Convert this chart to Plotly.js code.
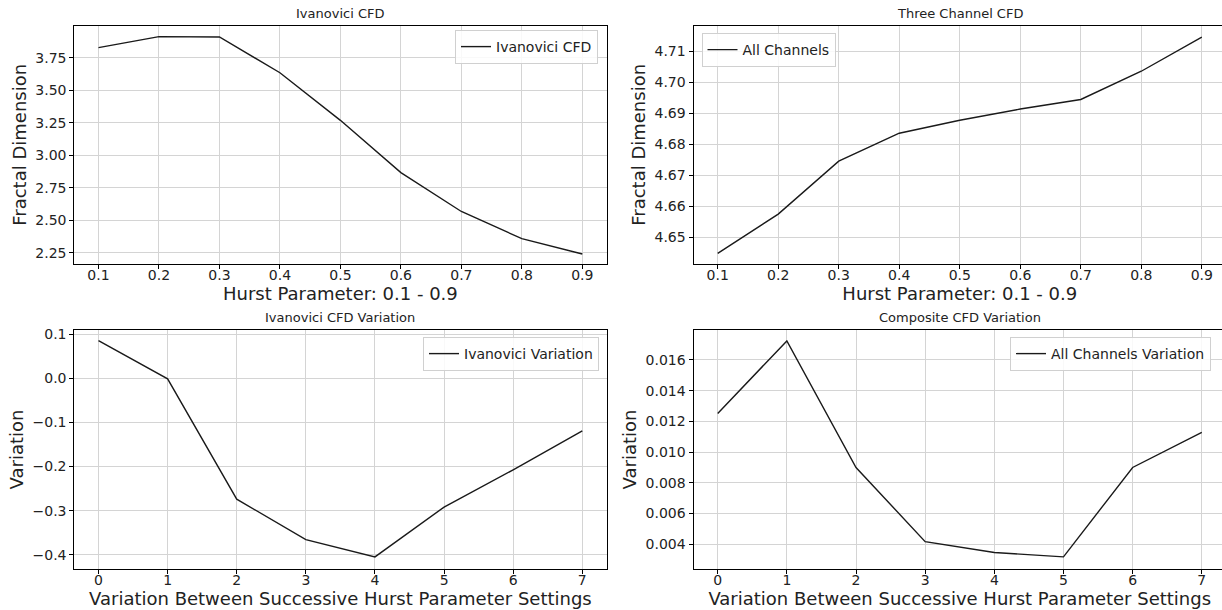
<!DOCTYPE html>
<html>
<head>
<meta charset="utf-8">
<script src="https://cdn.plot.ly/plotly-3.0.1.min.js"></script>
<style>
html,body{margin:0;padding:0;overflow:hidden;background:#fff;width:1222px;height:610px;}
#chart{width:1230px;height:610px;}
</style>
</head>
<body>
<div id="chart"></div>
<script>
// ---- data ----
const hurst = [0.1, 0.2, 0.3, 0.4, 0.5, 0.6, 0.7, 0.8, 0.9];
const ivanoviciCFD = [3.827, 3.912, 3.909, 3.634, 3.268, 2.866, 2.567, 2.358, 2.240];
const allChannelsCFD = [4.6447, 4.6574, 4.6745, 4.6835, 4.6877, 4.6913, 4.6944, 4.7035, 4.7145];
const steps = [0, 1, 2, 3, 4, 5, 6, 7];
const ivanoviciVariation = [0.0857, -0.001, -0.274, -0.366, -0.405, -0.292, -0.2075, -0.119];
const allChannelsVariation = [0.01252, 0.01724, 0.0090, 0.00417, 0.00346, 0.00318, 0.0090, 0.01128];

const subplotTitles = ["Ivanovici CFD", "Three Channel CFD", "Ivanovici CFD Variation", "Composite CFD Variation"];
const seriesNames = ["Ivanovici CFD", "All Channels", "Ivanovici Variation", "All Channels Variation"];
const xTitles = ["Hurst Parameter: 0.1 - 0.9", "Hurst Parameter: 0.1 - 0.9",
  "Variation Between Successive Hurst Parameter Settings", "Variation Between Successive Hurst Parameter Settings"];
const yTitles = ["Fractal Dimension", "Fractal Dimension", "Variation", "Variation"];
const hurstTicks = [0.1, 0.2, 0.3, 0.4, 0.5, 0.6, 0.7, 0.8, 0.9];
const hurstTickText = ["0.1", "0.2", "0.3", "0.4", "0.5", "0.6", "0.7", "0.8", "0.9"];

// ---- layout geometry (pixels) ----
const W = 1230, H = 610;
const FONT = "DejaVu Sans, Liberation Sans, sans-serif";
const colL = [74.3, 606.5], colR = [693.5, 1226];
const rowT = [25.7, 264], rowB = [330, 569];
const fx = p => p / W;
const fy = p => (H - p) / H;

const line = {color: "#1a1a1a", width: 1.4};
const traces = [
  {x: hurst, y: ivanoviciCFD, name: seriesNames[0], xaxis: "x", yaxis: "y", legend: "legend"},
  {x: hurst, y: allChannelsCFD, name: seriesNames[1], xaxis: "x2", yaxis: "y2", legend: "legend2"},
  {x: steps, y: ivanoviciVariation, name: seriesNames[2], xaxis: "x3", yaxis: "y3", legend: "legend3"},
  {x: steps, y: allChannelsVariation, name: seriesNames[3], xaxis: "x4", yaxis: "y4", legend: "legend4"}
].map(t => Object.assign({type: "scatter", mode: "lines", line: line, showlegend: true}, t));

function xa(domain, anchor, title, extra) {
  return Object.assign({
    domain: domain, anchor: anchor,
    showline: true, mirror: true, linecolor: "#000", linewidth: 1,
    showgrid: true, gridcolor: "#d4d4d4", gridwidth: 1, zeroline: false,
    ticks: "outside", ticklen: 4, tickcolor: "#000", tickwidth: 1,
    ticklabelstandoff: -6,
    tickfont: {family: FONT, size: 14, color: "#222"},
    title: {text: title, font: {family: FONT, size: 18, color: "#222"}, standoff: 0}
  }, extra);
}
function ya(domain, anchor, title, extra) {
  return Object.assign({
    domain: domain, anchor: anchor,
    showline: true, mirror: true, linecolor: "#000", linewidth: 1,
    showgrid: true, gridcolor: "#d4d4d4", gridwidth: 1, zeroline: false,
    ticks: "outside", ticklen: 4, tickcolor: "#000", tickwidth: 1,
    tickfont: {family: FONT, size: 14, color: "#222"},
    title: {text: title, font: {family: FONT, size: 18, color: "#222"}, standoff: 4}
  }, extra);
}

const legendBase = {
  bgcolor: "rgba(255,255,255,0.85)", bordercolor: "#d0d0d0", borderwidth: 1,
  font: {family: FONT, size: 14, color: "#222"}, xref: "paper", yref: "paper",
  itemwidth: 30, tracegroupgap: 0
};

const layout = {
  width: W, height: H,
  margin: {l: 0, r: 0, t: 0, b: 0},
  paper_bgcolor: "#fff", plot_bgcolor: "#fff",
  font: {family: FONT, color: "#222"},
  xaxis: xa([fx(colL[0]), fx(colL[1])], "y", xTitles[0], {range: [0.06, 0.94], tickvals: hurstTicks, ticktext: hurstTickText}),
  yaxis: ya([fy(rowT[1]), fy(rowT[0])], "x", yTitles[0], {range: [2.163, 3.996], dtick: 0.25, tick0: 2.25, tickformat: ".2f"}),
  xaxis2: xa([fx(colR[0]), fx(colR[1])], "y2", xTitles[1], {range: [0.06, 0.94], tickvals: hurstTicks, ticktext: hurstTickText}),
  yaxis2: ya([fy(rowT[1]), fy(rowT[0])], "x2", yTitles[1], {range: [4.6413, 4.7182], dtick: 0.01, tick0: 4.65, tickformat: ".2f"}),
  xaxis3: xa([fx(colL[0]), fx(colL[1])], "y3", xTitles[2], {range: [-0.35, 7.35], dtick: 1, tick0: 0}),
  yaxis3: ya([fy(rowB[1]), fy(rowB[0])], "x3", yTitles[2], {range: [-0.4325, 0.1098], dtick: 0.1, tick0: 0, tickformat: ".1f"}),
  xaxis4: xa([fx(colR[0]), fx(colR[1])], "y4", xTitles[3], {range: [-0.35, 7.35], dtick: 1, tick0: 0}),
  yaxis4: ya([fy(rowB[1]), fy(rowB[0])], "x4", yTitles[3], {range: [0.00239, 0.01795], dtick: 0.002, tick0: 0, tickformat: ".3f"}),
  legend: Object.assign({}, legendBase, {x: fx(598), xanchor: "right", y: fy(30), yanchor: "top"}),
  legend2: Object.assign({}, legendBase, {x: fx(701.5), xanchor: "left", y: fy(33), yanchor: "top"}),
  legend3: Object.assign({}, legendBase, {x: fx(599), xanchor: "right", y: fy(337), yanchor: "top"}),
  legend4: Object.assign({}, legendBase, {x: fx(1010), xanchor: "left", y: fy(337), yanchor: "top"}),
  annotations: [
    {text: subplotTitles[0], x: (fx(colL[0]) + fx(colL[1])) / 2, y: fy(rowT[0] - 3), yanchor: "bottom"},
    {text: subplotTitles[1], x: (fx(colR[0]) + fx(colR[1])) / 2, y: fy(rowT[0] - 3), yanchor: "bottom"},
    {text: subplotTitles[2], x: (fx(colL[0]) + fx(colL[1])) / 2, y: fy(rowB[0] - 3), yanchor: "bottom"},
    {text: subplotTitles[3], x: (fx(colR[0]) + fx(colR[1])) / 2, y: fy(rowB[0] - 3), yanchor: "bottom"}
  ].map(a => Object.assign({xref: "paper", yref: "paper", xanchor: "center", showarrow: false,
    font: {family: FONT, size: 13, color: "#222"}}, a))
};

Plotly.newPlot("chart", traces, layout, {displayModeBar: false, staticPlot: true});
</script>
</body>
</html>
